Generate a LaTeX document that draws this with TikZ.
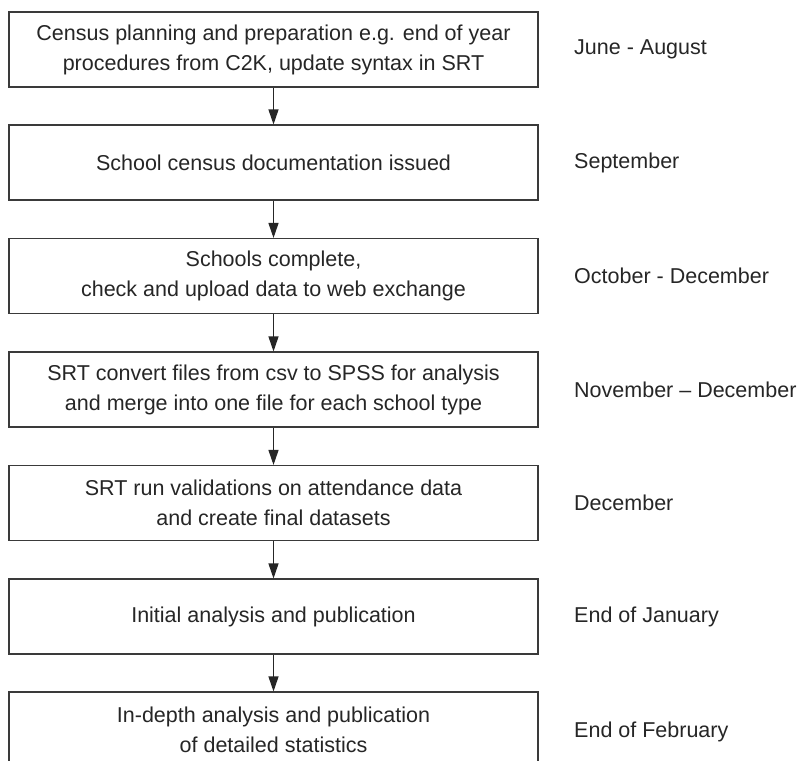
\documentclass[tikz,border=0pt]{standalone}
\usepackage{fontspec}
\setmainfont{Liberation Sans}
\usetikzlibrary{arrows.meta}
\definecolor{ink}{HTML}{262626}
\definecolor{edge}{HTML}{3A3A3A}
\begin{document}
\begin{tikzpicture}[x=1pt,y=-1pt,
  stepbox/.style={draw=edge, line width=1.1pt, minimum width=529pt, minimum height=75pt,
    inner sep=0pt, align=center, text=ink, font=\fontsize{21.5}{30}\selectfont},
  when/.style={anchor=west, inner sep=0pt, text=ink, font=\fontsize{21.5}{30}\selectfont},
  flow/.style={draw=ink, line width=1.1pt, -{Triangle[length=15pt,width=10pt]}}]
\useasboundingbox (0,0) rectangle (800,760);
\clip (0,0) rectangle (800,760);
\fill[white] (0,0) rectangle (800,760);
\node[stepbox] (b1) at (273.5,49.5) {Census planning and preparation e.g. end of year\\procedures from C2K, update syntax in SRT};
\node[stepbox] (b2) at (273.5,162.5) {School census documentation issued};
\node[stepbox] (b3) at (273.5,276) {Schools complete,\\check and upload data to web exchange};
\node[stepbox] (b4) at (273.5,389.5) {SRT convert files from csv to SPSS for analysis\\and merge into one file for each school type};
\node[stepbox] (b5) at (273.5,503) {SRT run validations on attendance data\\and create final datasets};
\node[stepbox] (b6) at (273.5,616.5) {Initial analysis and publication};
\node[stepbox] (b7) at (273.5,729.5) {In-depth analysis and publication\\of detailed statistics};
\node[when] (t1) at (574,49.5) {June - August};
\node[when] (t2) at (574,162.5) {September};
\node[when] (t3) at (574,276) {October - December};
\node[when] (t4) at (574,389.5) {November – December};
\node[when] (t5) at (574,503) {December};
\node[when] (t6) at (574,616.5) {End of January};
\node[when] (t7) at (574,732) {End of February};
\draw[flow] (b1) -- (b2);
\draw[flow] (b2) -- (b3);
\draw[flow] (b3) -- (b4);
\draw[flow] (b4) -- (b5);
\draw[flow] (b5) -- (b6);
\draw[flow] (b6) -- (b7);
\end{tikzpicture}
\end{document}
